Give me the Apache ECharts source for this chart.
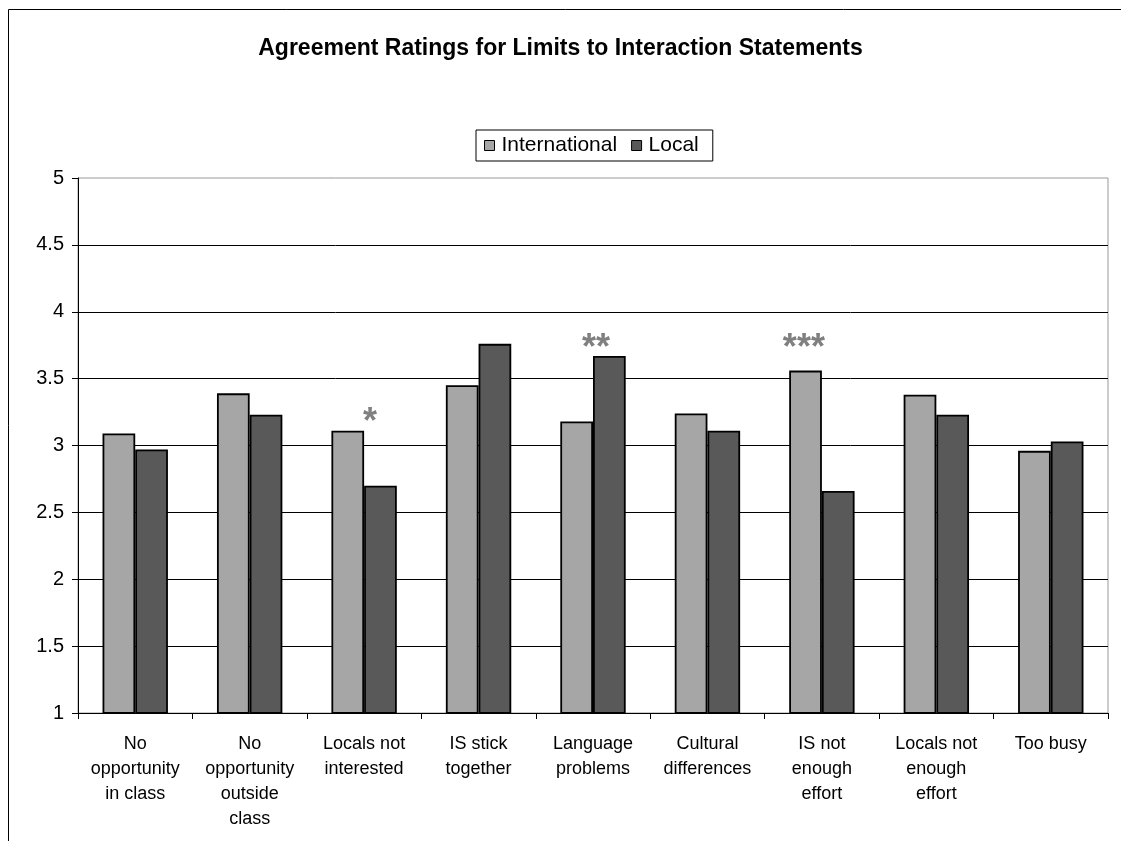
<!DOCTYPE html>
<html>
<head>
<meta charset="utf-8">
<script src="https://cdn.jsdelivr.net/npm/echarts@6/dist/echarts.min.js"></script>
<style>
  html, body { margin: 0; padding: 0; background: #fff; }
  #chart { width: 1121px; height: 841px; }
</style>
</head>
<body>
<div id="chart"></div>
<script>
// Statements rated by students (category axis)
const categories = [
  'No\nopportunity\nin class',
  'No\nopportunity\noutside\nclass',
  'Locals not\ninterested',
  'IS stick\ntogether',
  'Language\nproblems',
  'Cultural\ndifferences',
  'IS not\nenough\neffort',
  'Locals not\nenough\neffort',
  'Too busy'
];

// Mean agreement ratings
const international = [3.09, 3.39, 3.11, 3.45, 3.18, 3.24, 3.56, 3.38, 2.96];
const local = [2.97, 3.23, 2.70, 3.76, 3.67, 3.11, 2.66, 3.23, 3.03];

// Significance markers per statement
const significance = ['', '', '*', '', '**', '', '***', '', ''];

// Value axis ticks
const yTicks = [1, 1.5, 2, 2.5, 3, 3.5, 4, 4.5, 5];

const FONT = '"Liberation Sans", Arial, sans-serif';

// Pixel nudges for the star annotations, keyed by category index
const starNudge = { 2: [6, -8], 4: [3, -7], 6: [-18, -22] };

const starData = [];
significance.forEach(function (s, i) {
  if (!s) return;
  const n = starNudge[i] || [0, -8];
  starData.push({
    value: [i, Math.max(international[i], local[i])],
    label: { formatter: s, offset: n }
  });
});

const chart = echarts.init(document.getElementById('chart'), null, { renderer: 'canvas' });

chart.setOption({
  animation: false,
  backgroundColor: '#fff',
  textStyle: { fontFamily: FONT },
  title: {
    text: 'Agreement Ratings for Limits to Interaction Statements',
    left: 'center',
    top: 32,
    textStyle: { fontFamily: FONT, fontSize: 23, fontWeight: 'bold', color: '#000' }
  },
  legend: {
    data: ['International', 'Local'],
    left: 476,
    top: 130,
    orient: 'horizontal',
    icon: 'rect',
    itemWidth: 10,
    itemHeight: 10,
    itemGap: 14,
    padding: [5, 14, 5, 8],
    borderColor: '#000',
    borderWidth: 1,
    itemStyle: { borderColor: '#000', borderWidth: 1 },
    textStyle: { fontFamily: FONT, fontSize: 21, color: '#000', padding: [0, 0, 0, 2] }
  },
  grid: {
    left: 78,
    right: 13,
    top: 178,
    bottom: 128,
    show: true,
    borderColor: '#999',
    borderWidth: 1,
    containLabel: false
  },
  xAxis: {
    type: 'category',
    data: categories,
    boundaryGap: true,
    axisLine: { lineStyle: { color: '#000', width: 1 } },
    axisTick: { show: true, interval: 0, length: 6, lineStyle: { color: '#000' } },
    axisLabel: {
      interval: 0,
      fontFamily: FONT,
      fontSize: 18,
      lineHeight: 25,
      color: '#000',
      margin: 19,
      align: 'center'
    }
  },
  yAxis: {
    type: 'value',
    min: yTicks[0],
    max: yTicks[yTicks.length - 1],
    interval: yTicks[1] - yTicks[0],
    axisLine: { show: true, lineStyle: { color: '#000', width: 1 } },
    axisTick: { show: true, length: 6, lineStyle: { color: '#000' } },
    axisLabel: { fontFamily: FONT, fontSize: 20, color: '#000', margin: 14 },
    splitLine: { show: true, showMinLine: false, showMaxLine: false, lineStyle: { color: '#000', width: 1 } }
  },
  series: [
    {
      name: 'International',
      type: 'bar',
      data: international,
      barGap: '0%',
      barCategoryGap: '42.86%',
      itemStyle: { color: '#A6A6A6', borderColor: '#000', borderWidth: 1.8 }
    },
    {
      name: 'Local',
      type: 'bar',
      data: local,
      itemStyle: { color: '#595959', borderColor: '#000', borderWidth: 1.8 }
    },
    {
      name: 'significance',
      type: 'scatter',
      data: starData,
      symbolSize: 0,
      silent: true,
      z: 5,
      label: {
        show: true,
        position: 'inside',
        fontFamily: FONT,
        fontSize: 36,
        fontWeight: 'bold',
        color: '#606060'
      }
    }
  ],
  graphic: [
    {
      type: 'rect',
      silent: true,
      z: -1,
      shape: { x: 8.5, y: 9.5, width: 1300, height: 1000 },
      style: { fill: 'none', stroke: '#000', lineWidth: 1 }
    }
  ]
});
</script>
</body>
</html>
